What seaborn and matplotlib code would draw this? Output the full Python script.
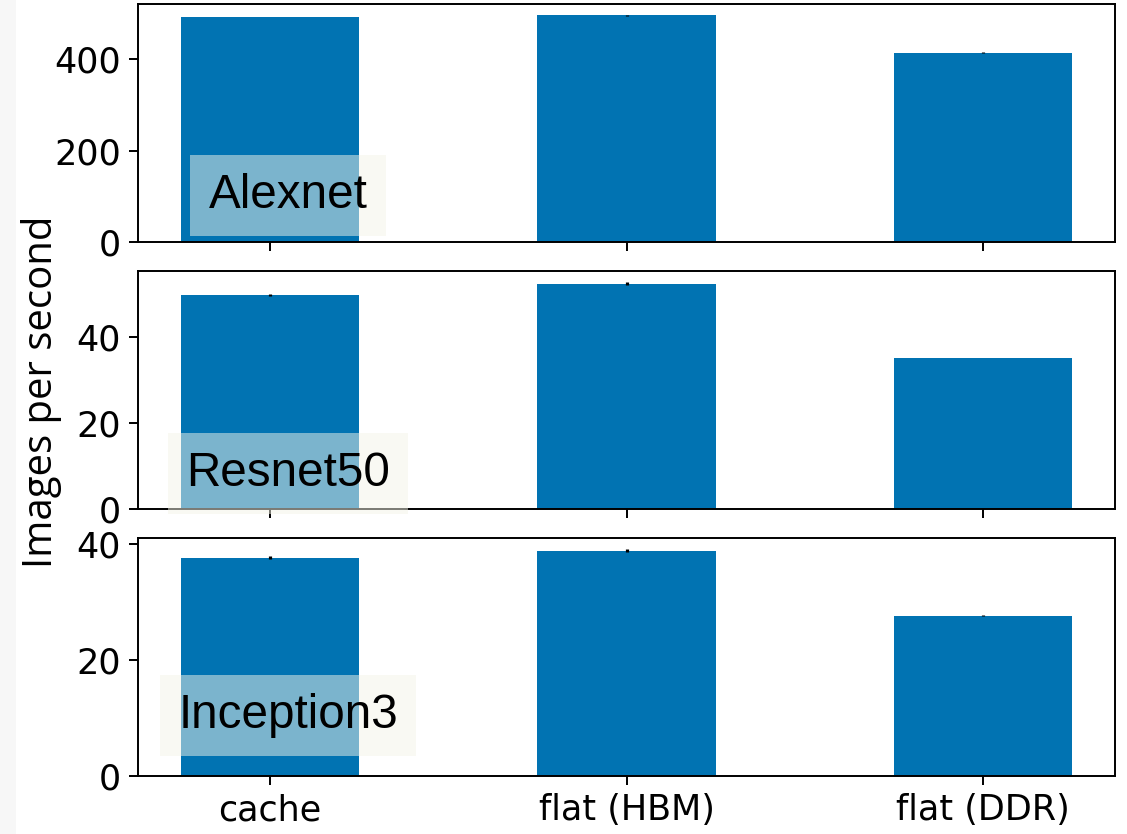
import matplotlib
matplotlib.use("Agg")
import matplotlib.pyplot as plt
from matplotlib.patches import Rectangle
import numpy as np
import pandas as pd
import seaborn as sns

# Throughput per memory mode for three networks
modes = ["cache", "flat (HBM)", "flat (DDR)"]
networks = ["Alexnet", "Resnet50", "Inception3"]
alexnet = [491.0, 495.0, 414.0]
resnet50 = [49.8, 52.4, 35.1]
inception3 = [37.7, 38.9, 27.7]
alexnet_err = [0.3, 0.3, 1.5]
resnet50_err = [0.2, 0.3, 0.1]
inception3_err = [0.25, 0.25, 0.1]

values = [alexnet, resnet50, inception3]
errors = [alexnet_err, resnet50_err, inception3_err]

sns.set_style("ticks")
plt.rcParams["font.family"] = ["DejaVu Sans"]
plt.rcParams["text.color"] = "black"
plt.rcParams["axes.labelcolor"] = "black"
plt.rcParams["axes.edgecolor"] = "black"
plt.rcParams["axes.linewidth"] = 0.8
plt.rcParams["xtick.color"] = "black"
plt.rcParams["ytick.color"] = "black"
plt.rcParams["xtick.major.size"] = 3.5
plt.rcParams["ytick.major.size"] = 3.5
plt.rcParams["xtick.major.width"] = 0.8
plt.rcParams["ytick.major.width"] = 0.8

bar_color = "#0173B2"

fig, axes = plt.subplots(3, 1, figsize=(1127 / 176, 834 / 176), dpi=176, sharex=True)
fig.subplots_adjust(left=0.1225, right=0.9894, bottom=0.0695, top=0.9952, hspace=0.121)

# light strip along the left edge of the canvas
fig.patches.append(Rectangle((0, 0), 16 / 1127, 1, transform=fig.transFigure,
                             facecolor="#f7f7f7", edgecolor="none", zorder=-1))

label_pos = [0.195, 0.15, 0.254]

for ax, name, vals, errs, ly in zip(axes, networks, values, errors, label_pos):
    df = pd.DataFrame({"mode": modes, "ips": vals})
    sns.barplot(data=df, x="mode", y="ips", order=modes, color=bar_color,
                saturation=1, width=0.5, errorbar=None, linewidth=0, ax=ax)
    ax.errorbar(np.arange(len(modes)), vals, yerr=errs, fmt="none",
                ecolor="black", elinewidth=1.3, capsize=0, zorder=3)
    ax.set_xlim(-0.37, 2.37)
    ax.set_ylim(0, max(v + e for v, e in zip(vals, errs)) * 1.05)
    ax.set_xlabel("")
    ax.set_ylabel("")
    ax.tick_params(labelsize=14.3, colors="black")
    for side in ["top", "right", "left", "bottom"]:
        ax.spines[side].set_visible(True)
        ax.spines[side].set_color("black")
    ax.text(0.1535, ly, name, transform=ax.transAxes, ha="center", va="center",
            fontsize=19.5, family=["Liberation Sans", "DejaVu Sans"], color="black",
            bbox=dict(boxstyle="square,pad=0.38", facecolor="#f5f5e8",
                      edgecolor="none", alpha=0.5), zorder=4)

axes[0].set_yticks([0, 200, 400])
axes[1].set_yticks([0, 20, 40])
axes[2].set_yticks([0, 20, 40])

fig.text(42 / 1127, 0.5306, "Images per second", rotation=90, ha="center",
         va="center", fontsize=16.4, color="black",
         family=["Open Sans", "DejaVu Sans"])

fig.savefig("out.png", dpi=176)
